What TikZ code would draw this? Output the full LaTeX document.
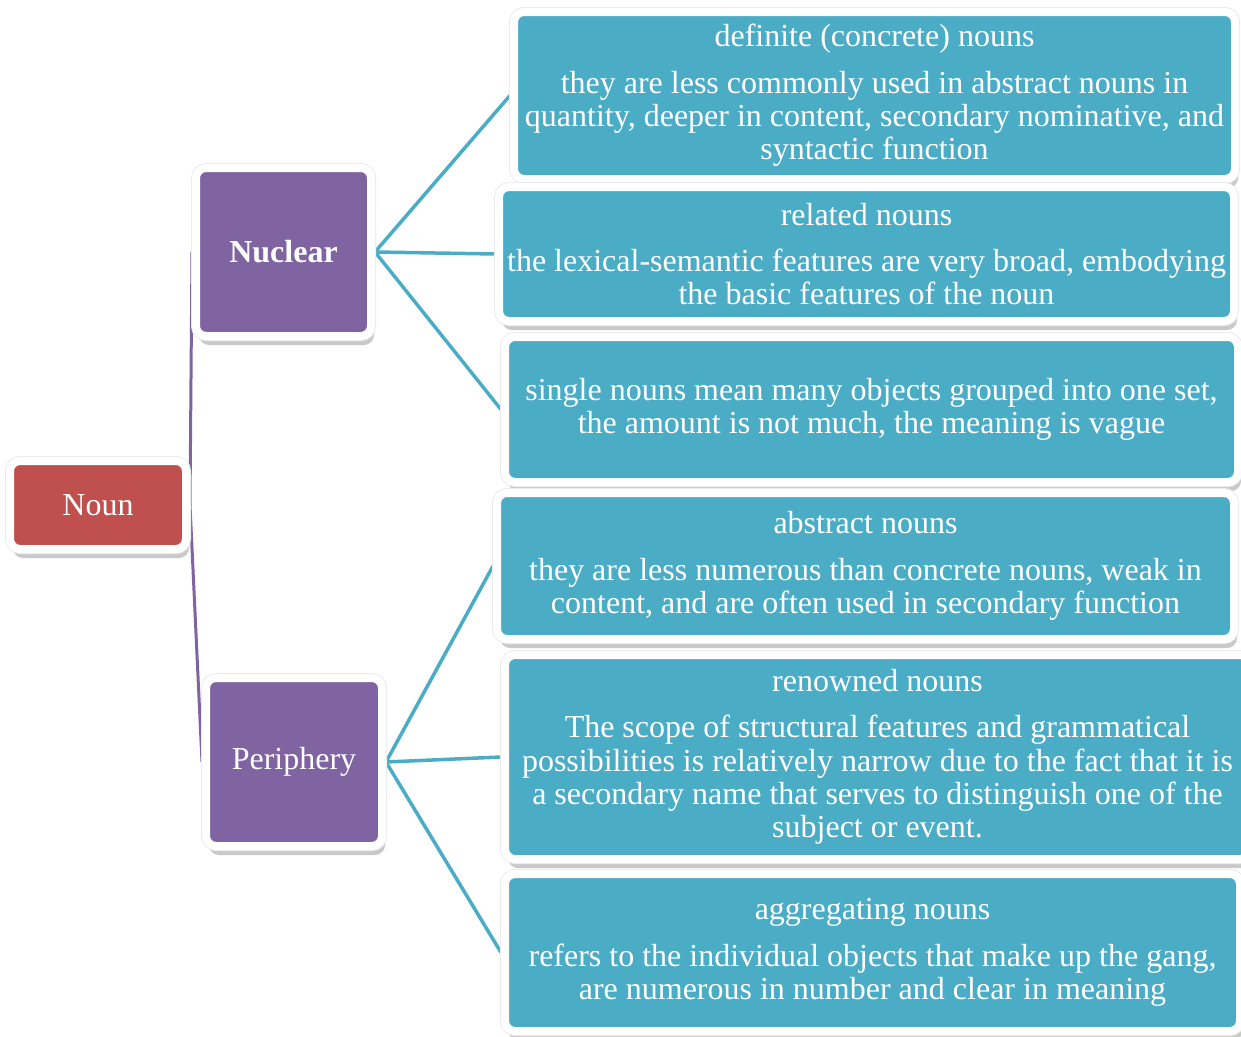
\documentclass[tikz,border=0pt]{standalone}
\usepackage{fontspec}
\setmainfont{Liberation Serif}
\usetikzlibrary{shadows,backgrounds}
\definecolor{cRed}{HTML}{C0504D}
\definecolor{cPurple}{HTML}{8064A2}
\definecolor{cTeal}{HTML}{4BACC6}
\begin{document}
\begin{tikzpicture}[x=1pt,y=-1pt,
  box/.style={rectangle, rounded corners=10pt, draw=white, line width=8pt,
    inner sep=0pt, text=white, align=center,
    font=\fontsize{32}{33.3}\selectfont,
    drop shadow={shadow xshift=3pt, shadow yshift=-9pt, opacity=0.3, fill=black!70},
    preaction={draw=black!8, line width=10pt}},
  rootbox/.style={box, fill=cRed},
  midbox/.style={box, fill=cPurple},
  leafbox/.style={box, fill=cTeal},
  purpleline/.style={draw=cPurple, line width=3pt},
  tealline/.style={draw=cTeal, line width=3.5pt}]
\useasboundingbox (0,0) rectangle (1241,1036);

\node[rootbox, minimum width=176pt, minimum height=88pt] (noun) at (98,505) {Noun};
\node[midbox, minimum width=175pt, minimum height=168pt] (nuclear) at (283.5,252) {\textbf{Nuclear}};
\node[midbox, minimum width=176pt, minimum height=168pt] (periphery) at (294,762) {Periphery};

\node[leafbox, minimum width=721pt, minimum height=167pt] (b1) at (874.5,95.5)
  {definite (concrete) nouns\\[13pt]they are less commonly used in abstract nouns in\\quantity, deeper in content, secondary nominative, and\\syntactic function};
\node[leafbox, minimum width=735pt, minimum height=134pt] (b2) at (866.5,254)
  {related nouns\\[13pt]the lexical-semantic features are very broad, embodying\\the basic features of the noun};
\node[leafbox, minimum width=733pt, minimum height=145pt] (b3) at (871.5,409.5)
  {single nouns mean many objects grouped into one set,\\the amount is not much, the meaning is vague};
\node[leafbox, minimum width=737pt, minimum height=146pt] (b4) at (865.5,566)
  {abstract nouns\\[13pt]they are less numerous than concrete nouns, weak in\\content, and are often used in secondary function};
\node[leafbox, minimum width=745pt, minimum height=204pt] (b5) at (877.5,757)
  {renowned nouns\\[13pt]The scope of structural features and grammatical\\possibilities is relatively narrow due to the fact that it is\\a secondary name that serves to distinguish one of the\\subject or event.};
\node[leafbox, minimum width=735pt, minimum height=157pt] (b6) at (872.5,952.5)
  {aggregating nouns\\[13pt]refers to the individual objects that make up the gang,\\are numerous in number and clear in meaning};

\begin{scope}[on background layer]
\draw[purpleline] (noun.east) -- (nuclear.west);
\draw[purpleline] (noun.east) -- (periphery.west);
\draw[tealline] (nuclear.east) -- (b1.west);
\draw[tealline] (nuclear.east) -- (b2.west);
\draw[tealline] (nuclear.east) -- (b3.west);
\draw[tealline] (periphery.east) -- (b4.west);
\draw[tealline] (periphery.east) -- (b5.west);
\draw[tealline] (periphery.east) -- (b6.west);
\end{scope}
\end{tikzpicture}
\end{document}
